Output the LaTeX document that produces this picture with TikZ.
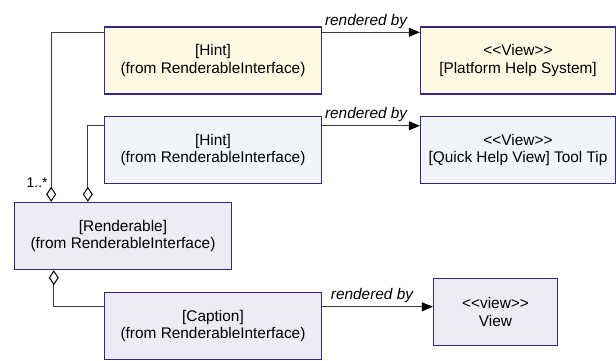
\documentclass[tikz,border=0pt]{standalone}
\usepackage{fontspec}
\setmainfont{Liberation Sans}
\usetikzlibrary{arrows.meta}

\definecolor{umlline}{HTML}{2E2A86}
\definecolor{hintyellow}{HTML}{FFF9E3}
\definecolor{hintblue}{HTML}{F1F5F9}
\definecolor{renderlav}{HTML}{ECEBF6}
\definecolor{linkgray}{HTML}{3C3C3C}

\begin{document}
\begin{tikzpicture}[x=1pt, y=-1pt,
		umlbox/.style={draw=umlline, line width=1.4pt, minimum height=67pt, align=center,
			inner sep=0pt, font=\fontsize{15.4}{17.4}\selectfont},
		renders/.style={draw=linkgray, line width=1pt, -{Triangle[length=11pt, width=9pt, color=black]}},
		aggr/.style={draw=linkgray, line width=1pt, {Diamond[open, length=15pt, width=10pt, color=black]}-},
		relname/.style={above, pos=.45, font=\fontsize{15.4}{17.4}\selectfont\itshape}]
			\useasboundingbox (0,0) rectangle (616,360);

			% hint boxes and their views
			\node[umlbox, fill=hintyellow, minimum width=217pt] (hintA) at (213,60.5) {[Hint]\\(from RenderableInterface)};
			\node[umlbox, fill=hintyellow, minimum width=195pt] (viewA) at (518,60.5) {<{}<View>{}>\\{}[Platform Help System]};
			\node[umlbox, fill=hintblue, minimum width=217pt] (hintB) at (213,150) {[Hint]\\(from RenderableInterface)};
			\node[umlbox, fill=hintblue, minimum width=195pt] (viewB) at (518,150) {<{}<View>{}>\\{}[Quick Help View] Tool Tip};

			% renderable and caption
			\node[umlbox, fill=renderlav, minimum width=217pt] (renderable) at (123,236) {[Renderable]\\(from RenderableInterface)};
			\node[umlbox, fill=renderlav, minimum width=217pt] (caption) at (213,326) {[Caption]\\(from RenderableInterface)};
			\node[umlbox, fill=renderlav, minimum width=124pt] (viewC) at (495.5,312) {<{}<view>{}>\\View};

			\draw[renders] ([yshift=-6pt]hintA.north east) -- ([yshift=-6pt]hintA.north east -| viewA.west) node[relname] {rendered by};
			\draw[renders] ([yshift=-10pt]hintB.north east) -- ([yshift=-10pt]hintB.north east -| viewB.west) node[relname] {rendered by};
			\draw[renders] ([yshift=-15pt]caption.north east) -- ([yshift=-15pt]caption.north east -| viewC.west) node[relname] {rendered by};

			\draw[aggr] ([xshift=37.4pt]renderable.north west) |- ([yshift=-6pt]hintA.north west);
			\draw[aggr] ([xshift=74pt]renderable.north west) |- ([yshift=-10pt]hintB.north west);
			\draw[aggr] ([xshift=40pt]renderable.south west) |- ([yshift=-15pt]caption.north west);

			\node[anchor=east, inner sep=0pt, font=\fontsize{14}{16}\selectfont] (mult) at ([xshift=34pt, yshift=19pt]renderable.north west) {1..*};
		\end{tikzpicture}
\end{document}
